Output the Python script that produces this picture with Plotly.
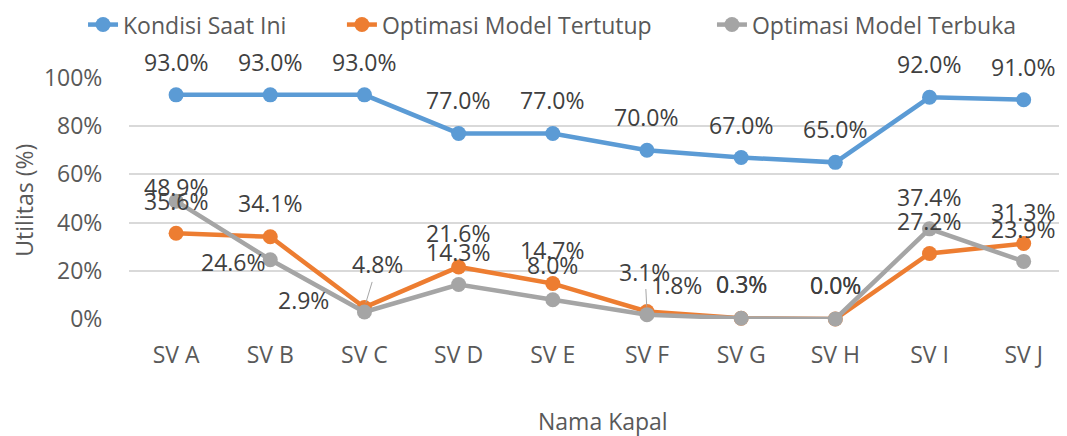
import plotly.graph_objects as go

categories = ["SV A", "SV B", "SV C", "SV D", "SV E", "SV F", "SV G", "SV H", "SV I", "SV J"]
kondisi = [93.0, 93.0, 93.0, 77.0, 77.0, 70.0, 67.0, 65.0, 92.0, 91.0]
tertutup = [35.6, 34.1, 4.8, 21.6, 14.7, 3.1, 0.3, 0.0, 27.2, 31.3]
terbuka = [48.9, 24.6, 2.9, 14.3, 8.0, 1.8, 0.3, 0.0, 37.4, 23.9]
y_ticks = [0, 20, 40, 60, 80, 100]

FONT = "Open Sans"
FS = 23
C_BLUE = "#5B9BD5"
C_ORANGE = "#ED7D31"
C_GRAY = "#A5A5A5"
C_TICK = "#595959"
C_LABEL = "#404040"

# label offsets (xshift, yshift) in pixels; ("arrow", ax, ay) -> label with leader line
kondisi_off = [(0, 33)] * 10
tertutup_off = [(0, 32), (0, 34), ("arrow", 13, -43), (0, 34), (0, 34), ("arrow", -2, -40),
                (0, 34), (0, 34.5), (0, 32), (0, 32)]
terbuka_off = [(0, 14), (-37, -2), (-61, 12), (0, 33), (0, 35), (30, 30),
               (0, 34), (0, 34.5), (0, 32), (0, 32)]

fig = go.Figure()
series = [
    ("Kondisi Saat Ini", kondisi, C_BLUE, "legend"),
    ("Optimasi Model Tertutup", tertutup, C_ORANGE, "legend2"),
    ("Optimasi Model Terbuka", terbuka, C_GRAY, "legend3"),
]
for name, vals, col, lg in series:
    fig.add_trace(go.Scatter(
        x=categories, y=vals, name=name, mode="lines+markers",
        line=dict(color=col, width=4.5),
        marker=dict(color=col, size=15),
        cliponaxis=False, legend=lg,
    ))

annotations = []
for vals, offs in [(kondisi, kondisi_off), (tertutup, tertutup_off), (terbuka, terbuka_off)]:
    for c, v, o in zip(categories, vals, offs):
        txt = f"{v:.1f}%"
        if o[0] == "arrow":
            annotations.append(dict(
                x=c, y=v, xref="x", yref="y", text=txt, showarrow=True,
                ax=o[1], ay=o[2], arrowhead=0, arrowwidth=1, arrowcolor="#A6A6A6",
                standoff=5, startstandoff=0,
                font=dict(family=FONT, size=FS, color=C_LABEL)))
        else:
            annotations.append(dict(
                x=c, y=v, xref="x", yref="y", text=txt, showarrow=False,
                xshift=o[0], yshift=o[1], xanchor="center", yanchor="middle",
                font=dict(family=FONT, size=FS, color=C_LABEL)))

annotations.append(dict(
    text="Utilitas (%)", x=-0.112, y=0.495, xref="paper", yref="paper",
    xanchor="center", yanchor="middle",
    showarrow=False, textangle=-90, font=dict(family=FONT, size=FS, color=C_TICK)))
annotations.append(dict(
    text="Nama Kapal", x=0.505, y=-0.425, xref="paper", yref="paper",
    xanchor="center", yanchor="middle",
    showarrow=False, font=dict(family=FONT, size=FS, color=C_TICK)))

leg_common = dict(orientation="h", yanchor="middle", xanchor="left", y=1.2215,
                  bgcolor="rgba(0,0,0,0)", font=dict(family=FONT, size=FS, color=C_TICK))

# the page body has an 8px default margin, so margins are reduced by 8px
fig.update_layout(
    width=1067, height=436,
    margin=dict(l=121, r=8, t=70, b=124.5, autoexpand=False),
    paper_bgcolor="white", plot_bgcolor="white",
    font=dict(family=FONT, size=FS, color=C_TICK),
    showlegend=True,
    legend=dict(x=-0.049, **leg_common),
    legend2=dict(x=0.227, **leg_common),
    legend3=dict(x=0.6215, **leg_common),
    annotations=annotations,
    xaxis=dict(
        type="category", range=[-0.5, 9.46], showgrid=False, zeroline=False,
        showline=False, ticks="outside", ticklen=15, tickcolor="rgba(0,0,0,0)",
        tickfont=dict(family=FONT, size=FS, color=C_TICK),
    ),
    yaxis=dict(
        range=[0, 100], tickvals=y_ticks, ticktext=[f"{t}%" for t in y_ticks],
        showgrid=True, gridcolor="#D9D9D9", gridwidth=1.5, zeroline=False,
        showline=False, ticks="outside", ticklen=21, tickcolor="rgba(0,0,0,0)",
        tickfont=dict(family=FONT, size=FS, color=C_TICK),
    ),
)

fig.write_html("out.html")
